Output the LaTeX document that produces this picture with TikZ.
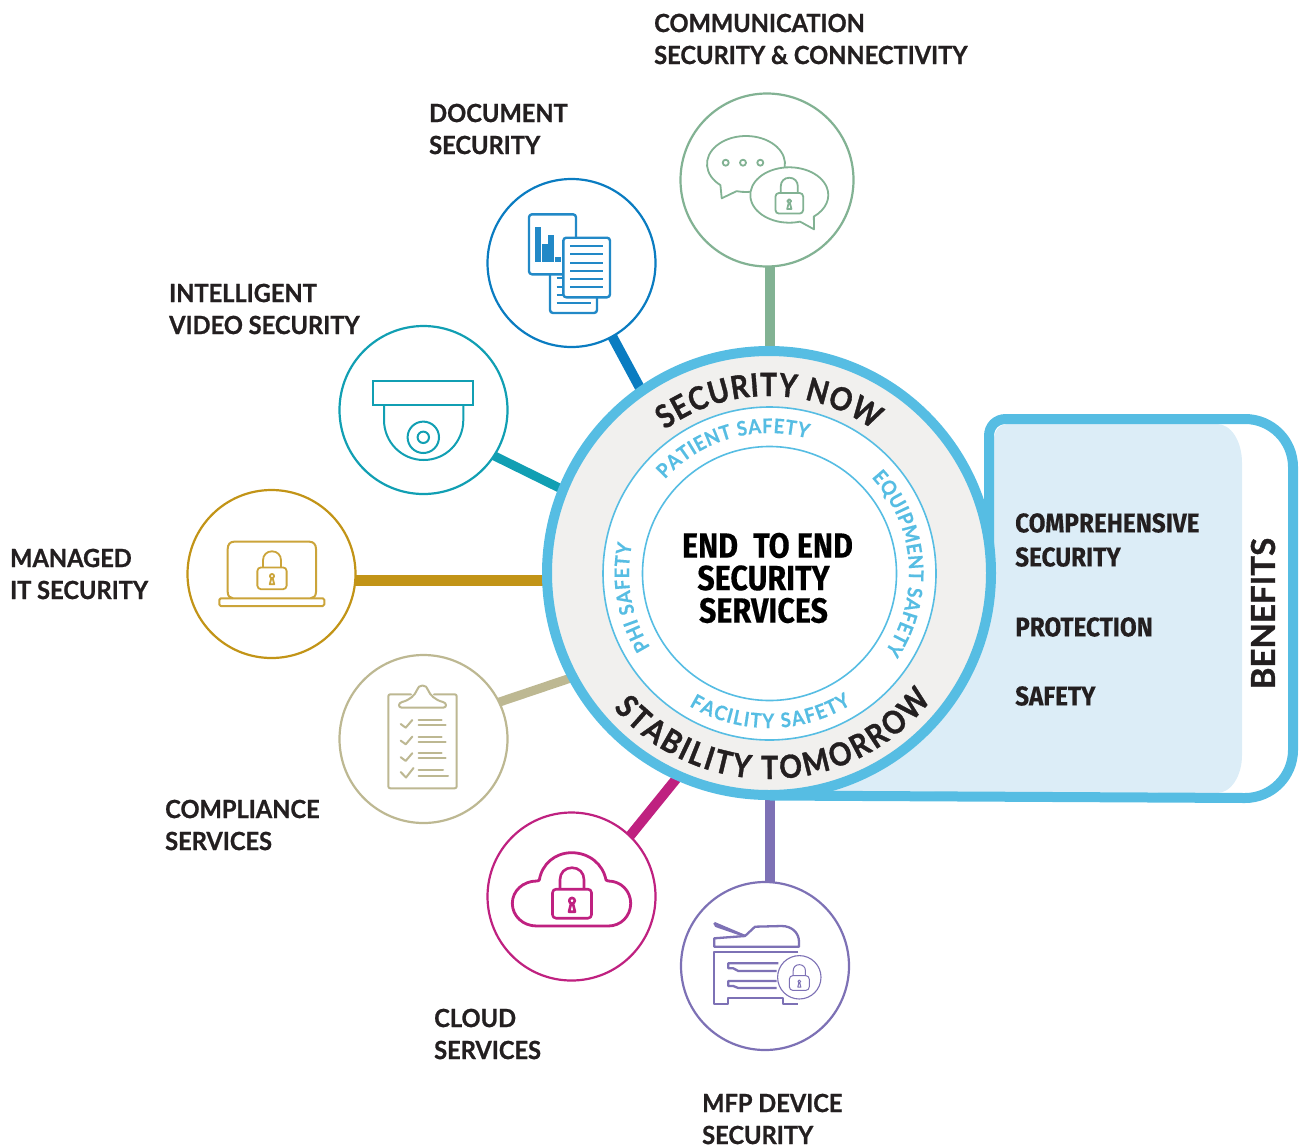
\documentclass[tikz,border=0pt]{standalone}
\usepackage{fontspec}
\usetikzlibrary{backgrounds,decorations.text}
\newfontfamily\lblface[FakeStretch=0.945,FakeBold=0.9]{Lato}
\newfontfamily\ringbface[FakeStretch=0.88,FakeBold=1.1]{Lato}
\newfontfamily\ringsface[FakeStretch=0.92,FakeBold=0.5]{Lato}
\newfontfamily\titleface[FakeBold=1.1]{Lato}
\newfontfamily\benface[FakeStretch=0.9,FakeBold=0.3]{Fira Sans}
\newfontfamily\coreface[FakeStretch=0.87,FakeBold=0.3]{Fira Sans}
\newcommand{\lblfont}{\lblface\bfseries\fontsize{25}{32}\selectfont}
\newcommand{\benfont}{\benface\bfseries\fontsize{27}{34}\selectfont}
\newcommand{\corefont}{\coreface\bfseries\fontsize{35}{32.5}\selectfont}
\newcommand{\ringbig}{\ringbface\bfseries\fontsize{32}{32}\selectfont}
\newcommand{\ringsmall}{\ringsface\bfseries\fontsize{20}{20}\selectfont}
\definecolor{sky}{HTML}{56BDE3}
\definecolor{ringgray}{HTML}{F1F0EE}
\definecolor{lightsky}{HTML}{DCEDF7}
\definecolor{ink}{HTML}{231F20}
\definecolor{cgreen}{HTML}{82B293}
\definecolor{cblue}{HTML}{0A7CC1}
\definecolor{cteal}{HTML}{119FB3}
\definecolor{cgold}{HTML}{C29417}
\definecolor{ctan}{HTML}{BDB892}
\definecolor{cmag}{HTML}{BF2180}
\definecolor{cpurp}{HTML}{7D71B5}
\tikzset{
  svc/.style={circle,inner sep=0pt,outer sep=0pt,minimum size=168pt,line width=2.2pt,fill=white},
  conn/.style={line width=10pt,line cap=butt},
  lbl/.style={anchor=west,inner sep=0pt,align=left,text=ink,font=\lblfont},
  ben/.style={anchor=west,inner sep=0pt,align=left,text=ink,font=\benfont},
  lockicon/.pic={
    \draw[line join=round,rounded corners=3.5pt] (-19.5,-14.5) rectangle (19.5,14.5);
    \draw (-12,-14.5) -- (-12,-24) .. controls (-12,-31) and (-7,-36) .. (0,-36) .. controls (7,-36) and (12,-31) .. (12,-24) -- (12,-14.5);
    \draw (0,-3) circle (2.8);
    \draw[line join=round] (-1,0) -- (-3,8) -- (3,8) -- (1,0);
  }
}
\begin{document}
\begin{tikzpicture}[x=1pt,y=-1pt]
\useasboundingbox (0,0) rectangle (1300,1146);
% benefits panel
\fill[lightsky] (994,440) .. controls (994,431) and (999,424) .. (1008,424) -- (1217,424) .. controls (1231,424) and (1242,441) .. (1242,463) -- (1242,755) .. controls (1242,776) and (1231,793) .. (1217,793) -- (770,791) -- (769,573) -- (994,500) -- cycle;
\draw[sky,line width=10pt,line join=round] (989,560) -- (989,436) .. controls (989,426) and (996,419) .. (1006,419) -- (1245,419) .. controls (1271.5,419) and (1293,440.5) .. (1293,467) -- (1293,750) .. controls (1293,776.5) and (1271.5,798) .. (1245,798) -- (770,795.5);
% main rings
\node[circle,inner sep=0pt,outer sep=0pt,minimum size=444pt,draw=sky,line width=10pt,fill=ringgray] (main) at (769,573) {};
\node[circle,inner sep=0pt,outer sep=0pt,minimum size=333pt,draw=sky,line width=1.6pt,fill=white] (ringb) at (769.5,573.5) {};
\node[circle,inner sep=0pt,outer sep=0pt,minimum size=254pt,draw=sky,line width=1.6pt,fill=white] (core) at (769.5,573.5) {};
\node[inner sep=0pt,align=center,font=\corefont,text=black] (coretext) at (763.5,578) {\hspace*{8pt}END\hspace{8pt} TO END\\SECURITY\\SERVICES};
% curved texts
\path[decorate,decoration={text along path,text={|\ringbig|SECURITY NOW},text align={fit to path},text color=ink}] (main.center) ++(234:177) arc[start angle=234,end angle=306,radius=177];
\path[decorate,decoration={text along path,text={|\ringbig|STABILITY TOMORROW},text align={fit to path},text color=ink}] (main.center) ++(139:206) arc[start angle=139,end angle=38,radius=206];
\path[decorate,decoration={text along path,text={|\ringsmall|PATIENT SAFETY},text align={fit to path},text color=sky}] (main.center) ++(222:140) arc[start angle=222,end angle=286,radius=140];
\path[decorate,decoration={text along path,text={|\ringsmall|EQUIPMENT SAFETY},text align={fit to path},text color=sky}] (main.center) ++(317:140) arc[start angle=317,end angle=394,radius=140];
\path[decorate,decoration={text along path,text={|\ringsmall|FACILITY SAFETY},text align={fit to path},text color=sky}] (main.center) ++(121:155) arc[start angle=121,end angle=58,radius=155];
\path[decorate,decoration={text along path,text={|\ringsmall|PHI SAFETY},text align={fit to path},text color=sky}] (main.center) ++(148:140) arc[start angle=148,end angle=192,radius=140];
% service circles
\node[svc,minimum size=173pt,draw=cgreen] (comm) at (767,180) {};
\node[svc,draw=cblue] (docs) at (571.5,263) {};
\node[svc,draw=cteal] (video) at (423.5,410) {};
\node[svc,draw=cgold] (managed) at (271.5,574) {};
\node[svc,draw=ctan] (compl) at (423.5,739) {};
\node[svc,draw=cmag] (cloud) at (571.5,896.5) {};
\node[svc,draw=cpurp] (mfp) at (765,966) {};
% connectors
\begin{pgfonlayer}{background}
\draw[conn,cgreen] ([xshift=3pt]comm.south) -- ([xshift=1pt]main.north);
\draw[conn,cblue] (docs.-61) -- (main.125);
\draw[conn,cteal,line width=9pt] (video.-33) -- (main.158);
\draw[conn,cgold,line width=11pt] ([yshift=-6.5pt]managed.east) -- ([yshift=-7.5pt]main.west);
\draw[conn,ctan,line width=9pt] (compl.26) -- (main.208);
\draw[conn,cmag] (cloud.46) -- (main.246);
\draw[conn,cpurp] ([xshift=5pt]mfp.north) -- ([xshift=1pt]main.south);
\end{pgfonlayer}
% labels
\node[lbl] (lcomm) at (654,39) {COMMUNICATION\\SECURITY \& CONNECTIVITY};
\node[lbl] (ldocs) at (429,129) {DOCUMENT\\SECURITY};
\node[lbl] (lvideo) at (169,309) {INTELLIGENT\\VIDEO SECURITY};
\node[lbl] (lmanaged) at (10,574) {MANAGED\\IT SECURITY};
\node[lbl] (lcompl) at (165,825) {COMPLIANCE\\SERVICES};
\node[lbl] (lcloud) at (434,1034) {CLOUD\\SERVICES};
\node[lbl] (lmfp) at (702,1119) {MFP DEVICE\\SECURITY};
% benefits
\node[ben] (b1) at (1015,540) {COMPREHENSIVE\\SECURITY};
\node[ben] (b2) at (1015,627) {PROTECTION};
\node[ben] (b3) at (1015,696) {SAFETY};
\node[inner sep=0pt,rotate=90,text=ink,font=\titleface\bfseries\fontsize{33}{33}\selectfont] (bt) at (1263,613.5) {BENEFITS};
% comm icon
\begin{scope}[cgreen,line width=1.8pt,line join=round]
\draw[fill=white] (746,164) ++(131:39 and 28) arc[start angle=131,end angle=464,x radius=39,y radius=28] -- (721.7,198.3) -- cycle;
\foreach \px in {725.7,743,760.3} \draw (\px,162.7) circle (3);
\draw[fill=white] (789.3,195) ++(74:39 and 27.7) arc[start angle=74,end angle=411,x radius=39,y radius=27.7] -- (814,229.3) -- cycle;
\pic[scale=.71] (lockcomm) at (789.3,203.3) {lockicon};
\end{scope}
% docs icon
\begin{scope}[cblue!90!white,line width=2.4pt,line join=round]
\draw[rounded corners=3pt,fill=white] (550,270) rectangle (597,313);
\foreach \py in {278,286.7,295} \draw[line width=1.8pt] (556.7,\py) -- (566,\py);
\draw[line width=1.8pt] (556.7,303) -- (591,303);
\draw[rounded corners=3pt,fill=white] (529,214.3) rectangle (576,274.3);
\fill (535,226.7) rectangle (541,261.7);
\fill (542,244) rectangle (548,261.7);
\fill (548.3,235) rectangle (554,261.7);
\fill (555,256.7) rectangle (561,261.7);
\draw[rounded corners=3pt,fill=white] (563.3,237.7) rectangle (610,297.3);
\foreach \py in {246,254.3,262.7,271,279,287.3} \draw[line width=1.9pt] (570,\py) -- (603.3,\py);
\end{scope}
% camera icon
\begin{scope}[cteal,line width=2pt]
\draw (373.3,381) rectangle (473.3,405);
\draw (384,405) -- (384,420) .. controls (384,442) and (401.5,460) .. (423.7,460) .. controls (446,460) and (463.3,442) .. (463.3,420) -- (463.3,405);
\draw (423.3,437.3) circle (15.7);
\draw (423.3,437.3) circle (5.7);
\end{scope}
% laptop icon
\begin{scope}[cgold!85!white,line width=2pt,line join=round]
\draw (233,598.3) .. controls (230,598.3) and (227.7,596) .. (227.7,592) -- (227.7,549) .. controls (227.7,544.5) and (230,541.7) .. (234,541.7) -- (309.5,541.7) .. controls (313.5,541.7) and (316,544.5) .. (316,549) -- (316,592) .. controls (316,596) and (313.5,598.3) .. (310.5,598.3);
\draw[rounded corners=1.5pt] (219.3,598.3) rectangle (324.3,606);
\pic[scale=.75,line width=1.8pt] (locklap) at (272,578.3) {lockicon};
\end{scope}
% clipboard icon
\begin{scope}[ctan,line width=2pt,line join=round,line cap=round]
\draw[rounded corners=2pt] (411,694.3) -- (388.3,694.3) -- (388.3,788.3) -- (456.7,788.3) -- (456.7,694.3) -- (434,694.3);
\draw[fill=white] (402,707.7) .. controls (398,707.7) and (398,703) .. (402,702) .. controls (410,700) and (415,695) .. (417,690) .. controls (418,684) and (427,684) .. (428,690) .. controls (430,695) and (435,700) .. (443,702) .. controls (447,703) and (447,707.7) .. (443,707.7) -- cycle;
\foreach \dy/\shortx/\longx in {0/441.7/445.7,16.6/441.7/445.7,33.2/441.7/445.7}{
  \draw (418.7,720+\dy) -- (\shortx,720+\dy);
  \draw (418.7,725+\dy) -- (\longx,725+\dy);
  \draw (400.7,724+\dy) -- (405.7,727.7+\dy) -- (412.3,720+\dy);
}
\draw (418.7,770) -- (443,770);
\draw (418.7,775.7) -- (448,775.7);
\draw (400.7,772) -- (406,777.5) -- (413.5,768);
\end{scope}
% cloud icon
\begin{scope}[cmag,line width=2.8pt,line join=round]
\draw (536.7,926) -- (608.3,926) .. controls (621,926) and (630.7,916) .. (630.7,903.3) .. controls (630.7,891) and (621,881) .. (608.3,881) .. controls (607,881) and (606.3,880.5) .. (606,880) .. controls (603,864) and (589,852.7) .. (571.7,852.7) .. controls (555,852.7) and (542,864) .. (539.3,880) .. controls (539,880.5) and (538,881) .. (536.7,881) .. controls (523,881) and (512.3,891) .. (512.3,903.3) .. controls (512.3,916) and (523,926) .. (536.7,926) -- cycle;
\pic[line width=2.6pt] (lockcloud) at (572,903.7) {lockicon};
\end{scope}
% mfp icon
\begin{scope}[cpurp,line width=2.3pt,line join=round]
\draw (714.3,946.7) -- (714.3,938.3) -- (745,936) -- (755,926.7) -- (781.7,926) .. controls (792,926) and (799,933) .. (799,941.7) -- (799,946.7) -- cycle;
\draw (714.3,923) -- (716,926) -- (745,936);
\draw (714.3,923) -- (745,936);
\draw (798.3,951.7) -- (714.3,951.7) -- (714.3,1004) -- (728.3,1004) -- (728.3,998.3) -- (782.7,998.3) -- (782.7,1004) -- (798.3,1004);
\draw (778.3,963.3) -- (728.3,963.3) -- (728.3,968.3) -- (733.3,968.3) -- (738.3,971) -- (776.7,971);
\draw (776.7,981) -- (728.3,981) -- (728.3,986) -- (733.3,986) -- (738.3,988) -- (776.7,988);
\draw[fill=white,line width=1.1pt] (799.3,977.3) circle (21.7);
\pic[scale=.51,line width=1pt] (lockmfp) at (799.3,983) {lockicon};
\end{scope}
\end{tikzpicture}
\end{document}
